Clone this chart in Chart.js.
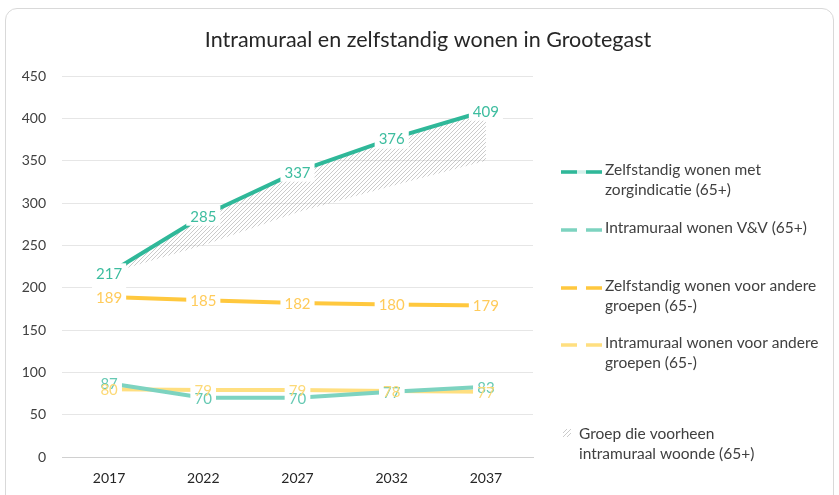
<!DOCTYPE html>
<html>
<head>
<meta charset="utf-8">
<script src="https://cdn.jsdelivr.net/npm/chart.js@4/dist/chart.umd.min.js"></script>
<style>
  body { margin: 0; background: #fff; }
  #card { position: absolute; left: 5px; top: 8px; width: 827px; height: 500px;
          border: 1px solid #d9d9d9; border-radius: 12px; }
  #wrap { position: absolute; left: 0; top: 0; width: 839px; height: 495px; }
</style>
</head>
<body>
<div id="card"></div>
<div id="wrap"><canvas id="draw" width="839" height="495"></canvas></div>
<script>
const years = ["2017", "2022", "2027", "2032", "2037"];
const zelfstandigZorg = [217, 285, 337, 376, 409];
const intramuraalVV = [87, 70, 70, 77, 83];
const zelfstandigAndere = [189, 185, 182, 180, 179];
const intramuraalAndere = [80, 79, 79, 78, 77];
// lower edge of the hatched band (zorg line minus former intramural group)
const voorheenOnder = [217, 250, 289, 320, 350];

const titleText = "Intramuraal en zelfstandig wonen in Grootegast";
const legendItems = [
  { lines: ["Zelfstandig wonen met", "zorgindicatie (65+)"], color: "#2fb899", ghost: true },
  { lines: ["Intramuraal wonen V&V (65+)"], color: "#7dd3c0" },
  { lines: ["Zelfstandig wonen voor andere", "groepen (65-)"], color: "#ffc83e" },
  { lines: ["Intramuraal wonen voor andere", "groepen (65-)"], color: "#ffdf80" },
  { lines: ["Groep die voorheen", "intramuraal woonde (65+)"], hatch: true }
];

function makeHatch(){
  const c = document.createElement("canvas");
  c.width = 4; c.height = 4;
  const g = c.getContext("2d");
  g.strokeStyle = "rgba(130,130,130,0.6)";
  g.lineWidth = 0.7;
  g.beginPath();
  g.moveTo(0, 4); g.lineTo(4, 0);
  g.moveTo(-1, 1); g.lineTo(1, -1);
  g.moveTo(3, 5); g.lineTo(5, 3);
  g.stroke();
  return g.createPattern(c, "repeat");
}
const hatch = makeHatch();

const FONT = "Lato, 'Open Sans', sans-serif";

// data labels with white boxes, boxes first then texts
const labelPlugin = {
  id: "valueLabels",
  afterDatasetsDraw(chart){
    const ctx = chart.ctx;
    ctx.save();
    ctx.font = "15px " + FONT;
    ctx.textAlign = "center";
    ctx.textBaseline = "middle";
    const items = [];
    chart.data.datasets.forEach((ds, i) => {
      if (!ds.showLabels) return;
      const meta = chart.getDatasetMeta(i);
      meta.data.forEach((pt, j) => {
        items.push({ x: pt.x, y: pt.y, t: String(ds.data[j]), c: ds.labelColor });
      });
    });
    ctx.fillStyle = "#fff";
    items.forEach(it => {
      const w = ctx.measureText(it.t).width + 8;
      ctx.fillRect(it.x - w / 2, it.y - 10, w, 20);
    });
    items.forEach(it => {
      ctx.fillStyle = it.c;
      ctx.fillText(it.t, it.x, it.y + 1);
    });
    ctx.restore();
  }
};

const sidePlugin = {
  id: "sideLegend",
  afterDraw(chart){
    const ctx = chart.ctx;
    ctx.save();
    ctx.fillStyle = "#262626";
    ctx.font = "21.5px " + FONT;
    ctx.textAlign = "center";
    ctx.textBaseline = "middle";
    ctx.fillText(titleText, 428, 40);

    const ys = [170, 228, 286, 343, 434];
    ctx.font = "15.5px " + FONT;
    ctx.textAlign = "left";
    legendItems.forEach((it, i) => {
      const y = ys[i];
      if (it.hatch) {
        ctx.fillStyle = hatch;
        ctx.fillRect(563, y - 5, 8, 8);
        ctx.fillStyle = "#404040";
        it.lines.forEach((l, k) => ctx.fillText(l, 579, y + k * 20));
        return;
      }
      ctx.lineWidth = 3.5;
      if (it.ghost) {
        ctx.strokeStyle = "rgba(47,184,153,0.2)";
        ctx.beginPath(); ctx.moveTo(561, y + 2); ctx.lineTo(602, y + 2); ctx.stroke();
      }
      ctx.strokeStyle = it.color;
      ctx.setLineDash([16, 9]);
      ctx.beginPath(); ctx.moveTo(561, y + 2); ctx.lineTo(602, y + 2); ctx.stroke();
      ctx.setLineDash([]);
      ctx.fillStyle = "#404040";
      it.lines.forEach((l, k) => ctx.fillText(l, 605, y + k * 20));
    });
    ctx.restore();
  }
};

const config = {
  type: "line",
  data: {
    labels: years,
    datasets: [
      {
        label: "Zelfstandig wonen met zorgindicatie (65+)",
        data: zelfstandigZorg,
        borderColor: "#2fb899",
        labelColor: "#3dbd9f",
        borderWidth: 4,
        showLabels: true,
        order: 1
      },
      {
        label: "Groep die voorheen intramuraal woonde (65+)",
        data: voorheenOnder,
        borderWidth: 0,
        borderColor: "rgba(0,0,0,0)",
        backgroundColor: hatch,
        fill: { target: 0 },
        order: 2
      },
      {
        label: "Intramuraal wonen V&V (65+)",
        data: intramuraalVV,
        borderColor: "#7dd3c0",
        labelColor: "#66c9b3",
        borderWidth: 4,
        showLabels: true,
        order: 3
      },
      {
        label: "Zelfstandig wonen voor andere groepen (65-)",
        data: zelfstandigAndere,
        borderColor: "#ffc83e",
        labelColor: "#ffcb5a",
        borderWidth: 4,
        showLabels: true,
        order: 4
      },
      {
        label: "Intramuraal wonen voor andere groepen (65-)",
        data: intramuraalAndere,
        borderColor: "#ffdf80",
        labelColor: "#fcd977",
        borderWidth: 4,
        showLabels: true,
        order: 5
      }
    ]
  },
  options: {
    responsive: false,
    animation: false,
    elements: { point: { radius: 0, hoverRadius: 0 }, line: { tension: 0 } },
    layout: { padding: { top: 76, right: 306, left: 0, bottom: 0 } },
    plugins: {
      legend: { display: false },
      title: { display: false },
      tooltip: { enabled: false }
    },
    scales: {
      x: {
        offset: true,
        grid: { display: false, drawTicks: false },
        border: { display: true, color: "#d0d0d0", width: 1 },
        ticks: { color: "#262626", font: { family: FONT, size: 14 }, padding: 13 },
        afterFit(scale){ scale.height = 38; }
      },
      y: {
        min: 0,
        max: 450,
        ticks: { stepSize: 50, color: "#404040", font: { family: FONT, size: 14 }, padding: 16 },
        grid: { color: "#e6e6e6", drawTicks: false },
        border: { display: false },
        afterFit(scale){ scale.width = 62; }
      }
    }
  },
  plugins: [labelPlugin, sidePlugin]
};

let myChart = new Chart(document.getElementById("draw").getContext("2d"), config);
</script>
</body>
</html>
